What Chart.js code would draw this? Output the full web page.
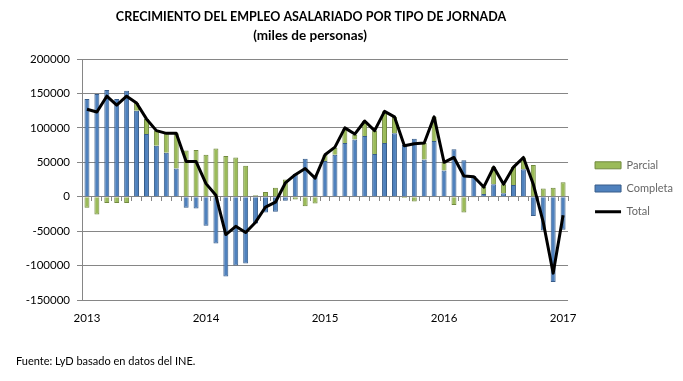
<!DOCTYPE html>
<html>
<head>
<meta charset="utf-8">
<script src="https://cdn.jsdelivr.net/npm/chart.js@4.4.1/dist/chart.umd.min.js"></script>
<style>
  html, body { margin: 0; padding: 0; background: #ffffff; }
  #wrap { width: 683px; height: 381px; position: relative; }
  canvas { display: block; }
</style>
</head>
<body>
<div id="wrap"><canvas id="c" width="683" height="381"></canvas></div>
<script>
// ---------- DATA ----------
const titleLines = ['CRECIMIENTO DEL EMPLEO ASALARIADO POR TIPO DE JORNADA', '(miles de personas)'];
const sourceNote = 'Fuente: LyD basado en datos del INE.';

const categories = [
  'ene-13','feb-13','mar-13','abr-13','may-13','jun-13','jul-13','ago-13','sep-13','oct-13','nov-13','dic-13',
  'ene-14','feb-14','mar-14','abr-14','may-14','jun-14','jul-14','ago-14','sep-14','oct-14','nov-14','dic-14',
  'ene-15','feb-15','mar-15','abr-15','may-15','jun-15','jul-15','ago-15','sep-15','oct-15','nov-15','dic-15',
  'ene-16','feb-16','mar-16','abr-16','may-16','jun-16','jul-16','ago-16','sep-16','oct-16','nov-16','dic-16',
  'ene-17'
];
const xTickLabels = { 'ene-13': '2013', 'ene-14': '2014', 'ene-15': '2015', 'ene-16': '2016', 'ene-17': '2017' };

const completa = [
  142000, 149000, 155000, 142000, 154000, 125000, 91000, 74000, 64000, 41000, -16000, -17000,
  -42000, -68000, -116000, -100000, -97000, -39000, -23000, -22000, -6000, 33000, 55000, 30000,
  52000, 61000, 78000, 83000, 88000, 62000, 78000, 92000, 75000, 84000, 54000, 81000,
  38000, 69000, 53000, 30000, 4000, 18000, 5000, 17000, 40000, -28000, -49000, -124000,
  -48000
];
const parcial = [
  -16000, -26000, -9000, -9000, -9000, 11000, 22000, 22000, 28000, 51000, 67000, 68000,
  61000, 70000, 59000, 57000, 45000, 2000, 7000, 13000, 25000, -4000, -14000, -10000,
  9000, 10000, 21000, 7000, 22000, 34000, 46000, 24000, -2000, -7000, 24000, 35000,
  12000, -12000, -23000, -1000, 10000, 25000, 13000, 26000, 17000, 46000, 12000, 13000,
  21000
];
const total = [
  127000, 123000, 146000, 133000, 146000, 136000, 113000, 96000, 92000, 92000, 51000, 51000,
  19000, 2000, -55000, -43000, -52000, -37000, -15000, -8000, 20000, 32000, 41000, 27000,
  61000, 72000, 100000, 91000, 110000, 96000, 124000, 116000, 74000, 77000, 78000, 116000,
  50000, 57000, 30000, 29000, 14000, 43000, 18000, 43000, 57000, 18000, -37000, -111000,
  -27000
];
const yTicks = [-150000, -100000, -50000, 0, 50000, 100000, 150000, 200000];

// ---------- STYLE ----------
const FONT = 'Lato, "Open Sans", "Liberation Sans", sans-serif';
const GRID = '#868686';
const BLUE = '#4f81bd', BLUE_B = '#385d8a';
const GREEN = '#9bbb59', GREEN_B = '#71893f';

const textPlugin = {
  id: 'textBlocks',
  beforeDraw(chart) {
    const ctx = chart.ctx;
    ctx.save();
    ctx.fillStyle = '#ffffff';
    ctx.fillRect(0, 0, chart.width, chart.height);
    ctx.restore();
  },
  afterDraw(chart) {
    const ctx = chart.ctx;
    ctx.save();
    ctx.fillStyle = '#000000';
    ctx.textBaseline = 'middle';
    ctx.textAlign = 'center';
    ctx.font = 'bold 12.5px ' + FONT;
    ctx.fillText(titleLines[0], 311, 17);
    ctx.font = 'bold 13.5px ' + FONT;
    ctx.fillText(titleLines[1], 310, 36);
    ctx.textAlign = 'left';
    ctx.font = '11px ' + FONT;
    ctx.fillText(sourceNote, 16, 361);
    ctx.restore();
  }
};

new Chart(document.getElementById('c'), {
  data: {
    labels: categories,
    datasets: [
      { type: 'bar', label: 'Parcial', data: parcial, backgroundColor: GREEN, borderColor: GREEN_B,
        borderWidth: 1, order: 2, xAxisID: 'x', yAxisID: 'y',
        categoryPercentage: 1, barPercentage: 0.5 },
      { type: 'bar', label: 'Completa', data: completa, backgroundColor: BLUE, borderColor: BLUE_B,
        borderWidth: 1, order: 1, xAxisID: 'x', yAxisID: 'y',
        categoryPercentage: 1, barPercentage: 0.5 },
      { type: 'line', label: 'Total', data: total, borderColor: '#000000', backgroundColor: '#000000',
        borderWidth: 3, pointRadius: 0, tension: 0, order: 0, xAxisID: 'x', yAxisID: 'y',
        borderJoinStyle: 'round' }
    ]
  },
  options: {
    responsive: false,
    animation: false,
    devicePixelRatio: 1,
    layout: { padding: { top: 59, bottom: 51, left: 16, right: 0 } },
    plugins: {
      title: { display: false },
      tooltip: { enabled: false },
      legend: {
        display: true,
        position: 'right',
        align: 'center',
        fullSize: false,
        title: { display: true, text: ' ', font: { family: FONT, size: 1 }, padding: { top: 16.8, bottom: 0 } },
        labels: {
          color: '#000000',
          font: { family: FONT, size: 11 },
          usePointStyle: true,
          pointStyleWidth: 26,
          boxHeight: 7,
          padding: 12.2,
          generateLabels(chart) {
            const ds = chart.data.datasets;
            return [
              { text: ds[0].label, fillStyle: GREEN, strokeStyle: GREEN_B, lineWidth: 1, pointStyle: 'rect', datasetIndex: 0, hidden: false },
              { text: ds[1].label, fillStyle: BLUE, strokeStyle: BLUE_B, lineWidth: 1, pointStyle: 'rect', datasetIndex: 1, hidden: false },
              { text: ds[2].label, fillStyle: '#000000', strokeStyle: '#000000', lineWidth: 3, pointStyle: 'line', datasetIndex: 2, hidden: false }
            ];
          }
        }
      }
    },
    scales: {
      x: {
        type: 'category',
        position: 'bottom',
        stacked: true,
        offset: true,
        grid: { display: false, drawTicks: false },
        border: { display: false },
        ticks: {
          autoSkip: false, maxRotation: 0, minRotation: 0, padding: 11,
          color: '#000000', font: { family: FONT, size: 11.5 },
          callback(v, i) { return xTickLabels[categories[i]] || ''; }
        },
        afterFit(s) { s.height = 30; }
      },
      xz: {
        type: 'category',
        labels: categories,
        position: { y: 0 },
        offset: true,
        grid: { display: true, drawOnChartArea: false, drawTicks: true, tickLength: 4, color: GRID, offset: true },
        border: { display: true, color: GRID, width: 1 },
        ticks: { display: false }
      },
      y: {
        type: 'linear',
        position: 'left',
        stacked: true,
        min: -150000,
        max: 200000,
        afterBuildTicks(s) { s.ticks = yTicks.map(v => ({ value: v })); },
        grid: { color: GRID, lineWidth: 1, drawTicks: true, tickLength: 5 },
        border: { display: true, color: GRID, width: 1 },
        ticks: {
          padding: 7, color: '#000000', font: { family: FONT, size: 11.5 },
          callback(v) { return String(v); }
        },
        afterFit(s) { s.width = 66; }
      },
      ySpacer: {
        type: 'linear',
        position: 'right',
        display: true,
        grid: { display: false, drawTicks: false },
        border: { display: false },
        ticks: { display: false },
        afterFit(s) { s.width = 14.8; }
      }
    }
  },
  plugins: [textPlugin]
});
</script>
</body>
</html>
